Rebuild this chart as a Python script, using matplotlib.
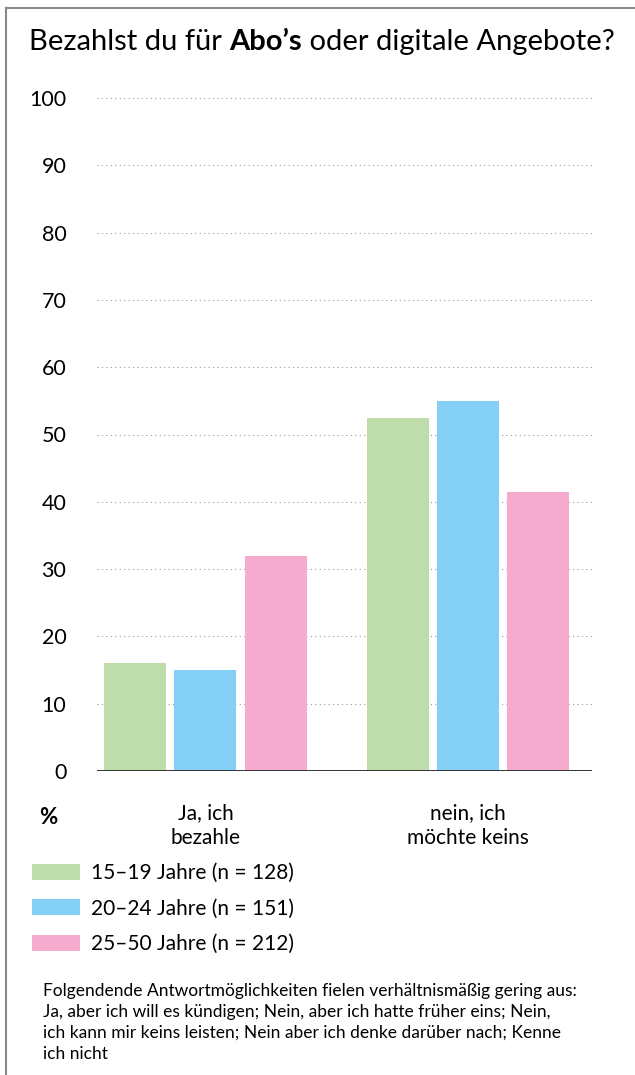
import matplotlib
matplotlib.use('Agg')
import matplotlib.pyplot as plt
from matplotlib.lines import Line2D

plt.rcParams['font.family'] = ['Lato', 'DejaVu Sans']

# data
categories = ['Ja, ich\nbezahle', 'nein, ich\nmöchte keins']
groups = ['15–19 Jahre (n = 128)', '20–24 Jahre (n = 151)', '25–50 Jahre (n = 212)']
vals_15_19 = [16, 52.5]
vals_20_24 = [15, 55]
vals_25_50 = [32, 41.5]
yticks = [0, 10, 20, 30, 40, 50, 60, 70, 80, 90, 100]
colors = ['#bfdcab', '#84d0f5', '#f4abcd']

title_parts = [('Bezahlst du für ', 'normal'), ('Abo’s', 'bold'), (' oder digitale Angebote?', 'normal')]
footnote = ('Folgendende Antwortmöglichkeiten fielen verhältnismäßig gering aus:\n'
            'Ja, aber ich will es kündigen; Nein, aber ich hatte früher eins; Nein,\n'
            'ich kann mir keins leisten; Nein aber ich denke darüber nach; Kenne\n'
            'ich nicht')

W, H = 635, 1075
fig = plt.figure(figsize=(W / 100, H / 100), dpi=100)
ax = fig.add_axes([97 / W, 1 - 771 / H, (592 - 97) / W, (771 - 98) / H])

series = [vals_15_19, vals_20_24, vals_25_50]
x = list(range(len(categories)))
width = 0.236
step = 0.267
bars = []
for i, (vals, c, lab) in enumerate(zip(series, colors, groups)):
    b = ax.bar([xi + (i - 1) * step for xi in x], vals, width, color=c, label=lab, zorder=2)
    bars.append(b)

ax.set_xlim(-0.413, 1.472)
ax.set_ylim(0, 100)
for s in ax.spines.values():
    s.set_visible(False)
ax.set_yticks(yticks)
ax.set_yticklabels([str(t) for t in yticks])
ax.yaxis.grid(True, linestyle=(0, (1, 3)), color='#999999', linewidth=0.8, zorder=0)
ax.axhline(0, color='#333333', linewidth=1.4, zorder=3)
ax.tick_params(axis='y', length=0, pad=22, labelsize=15.5)
ax.set_xticks(x)
ax.set_xticklabels(categories, linespacing=1.3)
ax.tick_params(axis='x', length=0, pad=23, labelsize=15)

fig.text(48 / W, 1 - 818 / H, '%', ha='center', va='center', fontsize=16, fontweight='bold')

leg = ax.legend(handles=bars, loc='upper left', bbox_to_anchor=(32 / W, 1 - 863 / H),
                bbox_transform=fig.transFigure, frameon=False, fontsize=15,
                handlelength=2.3, handleheight=0.8, handletextpad=0.55,
                labelspacing=0.75, borderpad=0, borderaxespad=0)

fig.text(43 / W, 1 - 983 / H, footnote, ha='left', va='top', fontsize=12.5, linespacing=1.38)

# title with bold fragment
renderer = fig.canvas.get_renderer()
texts = []
for s, wgt in title_parts:
    t = fig.text(0, 1 - 42 / H, s, ha='left', va='center', fontsize=21, fontweight=wgt)
    texts.append(t)
widths = [t.get_window_extent(renderer).width for t in texts]
xpos = 322 - sum(widths) / 2
for t, w in zip(texts, widths):
    t.set_x(xpos / W)
    xpos += w

# frame lines on top and left
fig.add_artist(Line2D([6 / W, 6 / W], [0, 1 - 8 / H], color='#8a8a8a', linewidth=1.5))
fig.add_artist(Line2D([6 / W, 1], [1 - 8 / H, 1 - 8 / H], color='#8a8a8a', linewidth=1.5))

fig.savefig('out.png', dpi=100)
